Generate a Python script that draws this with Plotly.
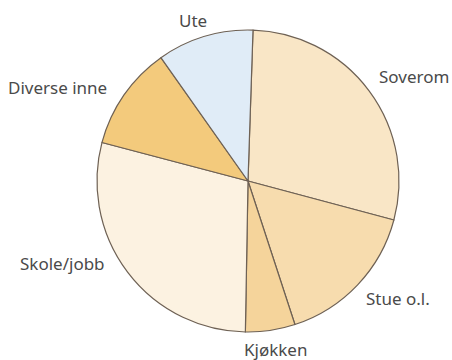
import plotly.graph_objects as go

# Share of time spent in each place (percent)
places = ["Soverom", "Stue o.l.", "Kjøkken", "Skole/jobb", "Diverse inne", "Ute"]
shares = [28.6, 15.8, 5.3, 28.8, 11.1, 10.3]
colors = ["#F9E6C6", "#F7DCAE", "#F5D49B", "#FCF2E1", "#F3CA7C", "#E0ECF7"]

# Label placement (paper coordinates, left edge of each label)
label_x = [0.833, 0.806, 0.535, 0.04, 0.014, 0.391]
label_y = [0.788, 0.172, 0.028, 0.269, 0.756, 0.944]

W, H = 452, 360
cx, cy, r = 248, 181, 151

fig = go.Figure(
    go.Pie(
        labels=places,
        values=shares,
        sort=False,
        direction="clockwise",
        rotation=1.9,
        marker=dict(colors=colors, line=dict(color="#6E6154", width=1.2)),
        textinfo="none",
        hoverinfo="label+percent",
        showlegend=False,
        domain=dict(
            x=[(cx - r) / W, (cx + r) / W],
            y=[(H - cy - r) / H, (H - cy + r) / H],
        ),
    )
)

for name, x, y in zip(places, label_x, label_y):
    fig.add_annotation(
        text=name, x=x, y=y, xref="paper", yref="paper",
        xanchor="left", yanchor="middle", showarrow=False,
        font=dict(family="Noto Sans", size=17, color="#4A4A4A"),
    )

fig.update_layout(
    width=W, height=H,
    margin=dict(l=0, r=0, t=0, b=0),
    paper_bgcolor="white",
    plot_bgcolor="white",
)

fig.write_html("out.html")
